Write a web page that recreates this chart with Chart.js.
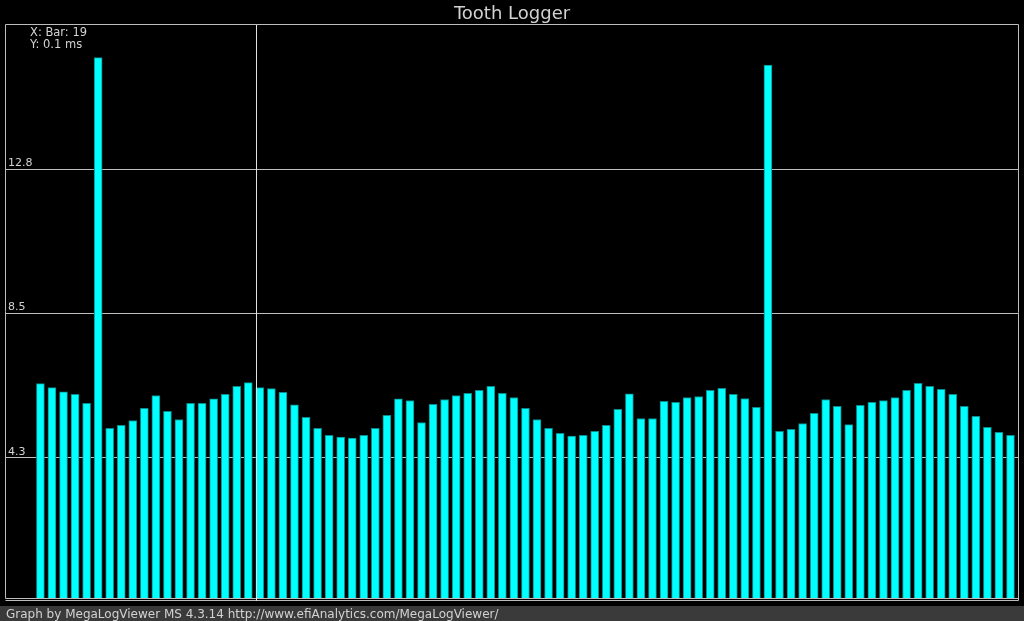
<!DOCTYPE html>
<html>
<head>
<meta charset="utf-8">
<title>Tooth Logger</title>
<script src="https://cdn.jsdelivr.net/npm/chart.js@4/dist/chart.umd.min.js"></script>
<style>
  html, body { margin: 0; padding: 0; background: #000; }
  canvas { display: block; }
</style>
</head>
<body>
<canvas id="tooth" width="1024" height="621"></canvas>
<script>
(() => {
  // tooth times (ms), one per bar
  const toothTimes = [
    6.46, 6.34, 6.22, 6.14, 5.88, 16.10, 5.14, 5.23, 5.37, 5.73,
    6.11, 5.64, 5.40, 5.88, 5.88, 6.01, 6.14, 6.38, 6.49, 6.34,
    6.31, 6.20, 5.83, 5.46, 5.14, 4.93, 4.88, 4.85, 4.93, 5.14,
    5.52, 6.01, 5.96, 5.31, 5.85, 5.99, 6.11, 6.17, 6.26, 6.38,
    6.17, 6.05, 5.73, 5.40, 5.14, 4.99, 4.91, 4.93, 5.05, 5.23,
    5.70, 6.16, 5.43, 5.43, 5.94, 5.91, 6.05, 6.08, 6.26, 6.32,
    6.14, 6.02, 5.76, 15.88, 5.05, 5.11, 5.28, 5.58, 5.99, 5.79,
    5.25, 5.82, 5.91, 5.96, 6.05, 6.26, 6.47, 6.38, 6.29, 6.14,
    5.79, 5.49, 5.17, 5.02, 4.93,
  ];
  const barIndex = toothTimes.map((_, i) => i);
  const yTicks = [4.2667, 8.5333, 12.8];
  const yMin = 0.12, yMax = 17.0667;
  const xMin = -2.98, xMax = 84.65;
  const cursorBar = 19;
  const cursorY = '0.1';
  const titleText = 'Tooth Logger';
  const footerText = 'Graph by MegaLogViewer MS 4.3.14 http://www.efiAnalytics.com/MegaLogViewer/';

  const FONT = '"DejaVu Sans", sans-serif';
  const TXT = '#d2d2d2';
  const LINE = '#bdbdbd';

  const chrome = {
    id: 'chrome',
    beforeDraw(chart) {
      const { ctx, width, height } = chart;
      ctx.save();
      ctx.fillStyle = '#000';
      ctx.fillRect(0, 0, width, height);
      ctx.restore();
    },
    afterDraw(chart) {
      const { ctx, chartArea: a, width, height } = chart;
      const xs = chart.scales.x;
      ctx.save();
      // frame
      ctx.strokeStyle = LINE;
      ctx.lineWidth = 1;
      ctx.beginPath();
      ctx.moveTo(a.left - 0.5, a.bottom + 0.5);
      ctx.lineTo(a.left - 0.5, a.top - 0.5);
      ctx.lineTo(a.right + 0.5, a.top - 0.5);
      ctx.lineTo(a.right + 0.5, a.bottom + 2.5);
      ctx.moveTo(a.left - 0.5, a.bottom + 0.5);
      ctx.lineTo(a.right + 0.5, a.bottom + 0.5);
      ctx.moveTo(a.left - 0.5, a.bottom + 2.5);
      ctx.lineTo(a.right + 0.5, a.bottom + 2.5);
      ctx.stroke();

      // cursor
      const cx = Math.round(xs.getPixelForValue(cursorBar - 0.35)) + 0.5;
      ctx.strokeStyle = '#e0e0e0';
      ctx.beginPath();
      ctx.moveTo(cx, a.top);
      ctx.lineTo(cx, a.bottom + 3);
      ctx.stroke();

      // title
      ctx.fillStyle = TXT;
      ctx.font = '18px ' + FONT;
      ctx.textAlign = 'center';
      ctx.textBaseline = 'alphabetic';
      ctx.fillText(titleText, width / 2, 19);

      // cursor readout
      ctx.font = '11.5px ' + FONT;
      ctx.textAlign = 'left';
      ctx.fillText('X: Bar: ' + cursorBar, 30, 36);
      ctx.fillText('Y: ' + cursorY + ' ms', 30, 48);

      // footer
      ctx.fillStyle = '#3a3a3a';
      ctx.fillRect(0, 606, width, height - 606);
      ctx.fillStyle = TXT;
      ctx.font = '12px ' + FONT;
      ctx.fillText(footerText, 6, 618);
      ctx.restore();
    },
  };

  new Chart(document.getElementById('tooth'), {
    type: 'bar',
    data: {
      datasets: [{
        data: barIndex.map(i => ({ x: i, y: toothTimes[i] })),
        backgroundColor: '#00ffff',
        borderColor: '#0a8a8a',
        borderWidth: 1,
        borderSkipped: 'start',
        barThickness: 8,
      }],
    },
    options: {
      responsive: false,
      animation: false,
      events: [],
      layout: { padding: { left: 2, top: 25, right: 6, bottom: 23 } },
      scales: {
        x: {
          type: 'linear', min: xMin, max: xMax, display: false,
          offset: false, grid: { offset: false },
        },
        y: {
          min: yMin, max: yMax, z: 1,
          afterBuildTicks: (axis) => { axis.ticks = yTicks.map(v => ({ value: v })); },
          border: { display: false },
          grid: { color: LINE, lineWidth: 1, drawTicks: false },
          ticks: {
            mirror: true, padding: 2, labelOffset: -6,
            color: TXT, font: { family: FONT, size: 11 },
            callback: (v) => Number(v).toFixed(1),
          },
        },
      },
      plugins: { legend: { display: false }, tooltip: { enabled: false } },
    },
    plugins: [chrome],
  });
})();
</script>
</body>
</html>
